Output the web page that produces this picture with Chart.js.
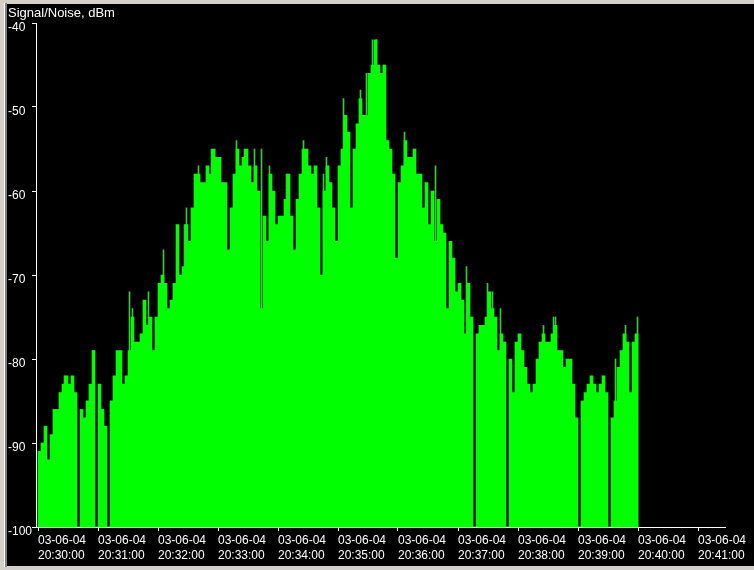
<!DOCTYPE html>
<html>
<head>
<meta charset="utf-8">
<script src="https://cdn.jsdelivr.net/npm/chart.js@4/dist/chart.umd.min.js"></script>
<style>
html,body{margin:0;padding:0;background:#d4d0c8;width:754px;height:570px;overflow:hidden;}
#edgeL{position:absolute;left:4px;top:3px;width:1px;height:564px;background:#ffffff;}
#edgeD{position:absolute;left:5px;top:3px;width:2px;height:564px;background:#808080;}
#frame{position:absolute;left:7px;top:4px;width:747px;height:562px;background:#000;}
#c{position:absolute;left:1px;top:0;}
</style>
</head>
<body>
<div id="edgeL"></div><div id="edgeD"></div>
<div id="frame"><canvas id="c" width="746" height="562"></canvas></div>
<script>
// ---- data ----
const chartTitle = 'Signal/Noise, dBm';
const dateLabel = '03-06-04';
const timeLabels = ['20:30:00','20:31:00','20:32:00','20:33:00','20:34:00','20:35:00',
                    '20:36:00','20:37:00','20:38:00','20:39:00','20:40:00','20:41:00'];
const tickSeconds = [0,60,120,180,240,300,360,420,480,540,600,660];
const yTicks = [-100,-90,-80,-70,-60,-50,-40];
const sampleSeconds = 3;   // one reading every 3 s, starting 20:30:00
// Signal/Noise, dBm (3-second readings)
const snr = [
  -91,-90,-88,-92,-89,-86,-86,-84,-83,-82,   // 20:30:00
  -83,-82,-84,-100,-86,-87,-85,-83,-79,-100, // 20:30:30
  -83,-86,-88,-100,-85,-82,-79,-79,-83,-82,  // 20:31:00
  -79,-75,-78,-78,-77,-73,-76,-75,-79,-75,   // 20:31:30
  -71,-70,-71,-74,-73,-71,-64,-70,-69,-64,   // 20:32:00
  -66,-62,-58,-58,-59,-59,-57,-58,-55,-56,   // 20:32:30
  -56,-59,-59,-67,-62,-58,-55,-57,-56,-55,   // 20:33:00
  -57,-59,-57,-60,-74,-63,-66,-58,-60,-64,   // 20:33:30
  -63,-63,-61,-58,-63,-67,-61,-58,-55,-55,   // 20:34:00
  -57,-58,-57,-62,-70,-60,-57,-59,-62,-66,   // 20:34:30
  -57,-55,-51,-53,-62,-55,-52,-49,-51,-51,   // 20:35:00
  -46,-45,-42,-45,-46,-45,-54,-55,-58,-68,   // 20:35:30
  -59,-57,-54,-56,-56,-55,-58,-58,-62,-59,   // 20:36:00
  -64,-60,-66,-61,-64,-65,-74,-66,-68,-72,   // 20:36:30
  -71,-73,-77,-71,-75,-100,-77,-76,-76,-75,  // 20:37:00
  -72,-74,-75,-79,-77,-78,-100,-80,-84,-78,  // 20:37:30
  -77,-79,-81,-83,-84,-83,-80,-78,-77,-78,   // 20:38:00
  -78,-77,-76,-79,-79,-81,-80,-80,-83,-87,   // 20:38:30
  -100,-85,-84,-83,-82,-83,-84,-83,-82,-84,  // 20:39:00
  -100,-87,-85,-81,-79,-77,-78,-84,-78,-77   // 20:39:30
];
// brief one-second peaks (seconds after 20:30:00, dBm)
const peakSeconds = [7, 26, 55, 91, 94, 110, 121, 125, 146, 148, 160, 173, 176, 198, 206,
                     216, 223, 231, 248, 265, 285, 288, 305, 322, 328, 334, 338, 345, 366, 376,
                     397, 428, 449, 454, 462, 505, 515, 517, 577, 587, 599];
const peakSnr =     [-88, -82, -79, -72, -74, -72, -71, -67, -64, -62, -57, -55, -55, -54, -55,
                     -55, -55, -57, -58, -54, -58, -56, -49, -48, -46, -42, -42, -45, -53, -55,
                     -57, -69, -71, -72, -74, -76, -75, -75, -80, -76, -75];

const points = snr.map((v, i) => ({ x: i * sampleSeconds + sampleSeconds / 2, y: [yTicks[0], v] }));
const peakPoints = peakSeconds.map((s, i) => ({ x: s + 0.5, y: [yTicks[0], peakSnr[i]] }));

Chart.defaults.font.family = '"Liberation Sans", Arial, sans-serif';
Chart.defaults.font.size = 12;
Chart.defaults.color = '#ffffff';

new Chart(document.getElementById('c'), {
  type: 'bar',
  data: {
    datasets: [{
      label: chartTitle,
      data: points,
      backgroundColor: '#00ff00',
      borderWidth: 0,
      barThickness: 3,
      order: 1
    }, {
      label: 'peaks',
      data: peakPoints,
      backgroundColor: '#3cc83c',
      borderWidth: 0,
      barThickness: 1,
      order: 2
    }]
  },
  options: {
    responsive: false,
    devicePixelRatio: 1,
    animation: false,
    grouped: false,
    layout: { padding: { left: 0, right: 29, top: 0, bottom: 0 } },
    plugins: {
      legend: { display: false },
      tooltip: { enabled: false },
      title: {
        display: true,
        text: chartTitle,
        align: 'start',
        color: '#ffffff',
        font: { size: 13, weight: 'normal', lineHeight: 1.2 },
        padding: { top: 2, bottom: 1.4 }
      }
    },
    scales: {
      x: {
        type: 'linear',
        offset: false,
        min: -2,
        max: 687,
        afterBuildTicks: s => { s.ticks = tickSeconds.map(v => ({ value: v })); },
        afterFit: s => { s.height = 39; },
        border: { display: true, color: '#ffffff', width: 1 },
        grid: { display: true, offset: false, drawOnChartArea: false, drawTicks: true, tickLength: 4, color: '#ffffff' },
        ticks: {
          autoSkip: false,
          maxRotation: 0,
          minRotation: 0,
          align: 'start',
          padding: 2,
          color: '#ffffff',
          font: { size: 12, lineHeight: 1.25 },
          callback: (value, index) => [dateLabel, timeLabels[index]]
        }
      },
      y: {
        type: 'linear',
        min: yTicks[0],
        max: yTicks[yTicks.length - 1],
        afterBuildTicks: s => { s.ticks = yTicks.map(v => ({ value: v })); },
        afterFit: s => { s.width = 28; },
        border: { display: true, color: '#ffffff', width: 1 },
        grid: { display: true, drawOnChartArea: false, drawTicks: true, tickLength: 4, color: '#ffffff' },
        ticks: {
          crossAlign: 'far',
          padding: 0,
          labelOffset: 5,
          color: '#ffffff',
          font: { size: 12 },
          callback: v => String(v)
        }
      }
    }
  }
});
</script>
</body>
</html>
